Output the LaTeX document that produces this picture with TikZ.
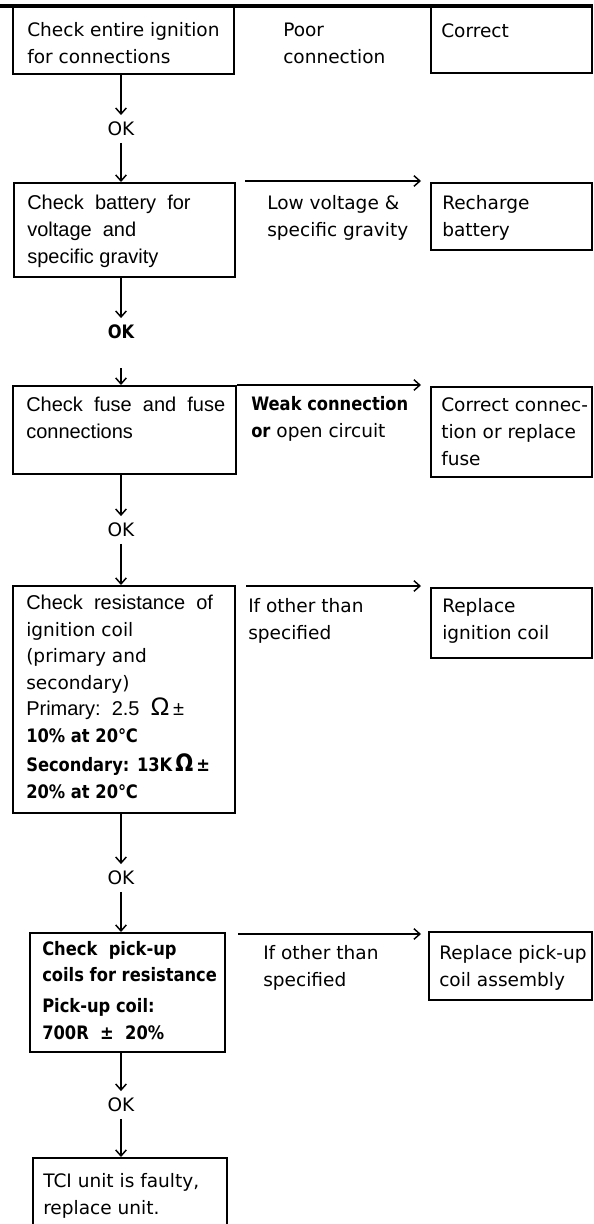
\documentclass[tikz,border=0pt]{standalone}
\usepackage{fontspec}
\setmainfont{DejaVu Sans}
\newfontfamily\hvfont{Liberation Sans}
\newfontfamily\bdfont{DejaVu Sans}[FakeStretch=0.88]
\usetikzlibrary{arrows.meta,calc,fit}
\begin{document}
\begin{tikzpicture}[x=0.75pt,y=-0.75pt,
  box/.style={draw,line width=1.5pt,inner sep=0pt,rectangle},
  uv/.style={inner sep=0pt,anchor=base west,align=left,font=\fontsize{13.9pt}{19.9pt}\selectfont},
  hv/.style={inner sep=0pt,anchor=base west,align=left,font=\hvfont\fontsize{15pt}{19.9pt}\selectfont},
  bd/.style={inner sep=0pt,anchor=base west,align=left,font=\bdfont\bfseries\fontsize{13.9pt}{19.9pt}\selectfont},
  okl/.style={inner xsep=0pt,inner ysep=5pt,font=\fontsize{13.9pt}{19.9pt}\selectfont},
  arr/.style={line width=1.1pt,-{Straight Barb[length=4.5pt,width=8pt,line width=1.1pt]}}
]
\useasboundingbox (0,0) rectangle (593,1224);
\clip (0,0) rectangle (593,1224);
% top rule
\coordinate (tl) at (0,6);
\coordinate (tr) at (593,6);
\draw[line width=2.3pt] (tl) -- (tr);

% row 1 (text nodes are placed at the baseline of their last line)
\node[box,fit={(13,6) (234,74)}] (b1) {};
\node[uv] (t1) at (27,63) {Check entire ignition\\for connections};
\node[uv] (m1) at (283,63) {Poor\\connection};
\node[box,fit={(431,6) (592,73)}] (r1) {};
\node[uv] (s1) at (441,37) {Correct};

\node[okl] (ok1) at (121,129) {OK};
\draw[arr] (b1.south -| ok1.north) -- (ok1.north);

% row 2
\node[box,fit={(14,183) (235,277)}] (b2) {};
\draw[arr] (ok1.south) -- (ok1.south |- b2.north);
\node[hv] (t2) at (27,263) {Check\ \ battery\ \ for\\voltage\ \ and\\specific gravity};
\node[uv] (m2) at (267,236) {Low voltage \&\\specific gravity};
\node[box,fit={(431,183) (592,250)}] (r2) {};
\node[uv] (s2) at (442,236) {Recharge\\battery};
\draw[arr] ($(b2.north east)+(9,-1)$) -- ($(r2.north west)+(-9,-1)$);

\node[okl,font=\bdfont\bfseries\fontsize{13.9pt}{19.9pt}\selectfont] (ok2) at (121,332) {OK};
\draw[arr] (b2.south -| ok2.north) -- (ok2.north);
\coordinate (c3) at (121,368);

% row 3
\node[box,fit={(13,386) (236,474)}] (b3) {};
\draw[arr] (c3) -- (c3 |- b3.north);
\node[hv] (t3) at (26,438) {Check\ \ fuse\ \ and\ \ fuse\\connections};
\node[uv] (m3) at (251,437) {{\bdfont\bfseries Weak connection}\\{\bdfont\bfseries or} open circuit};
\node[box,fit={(431,387) (592,477)}] (r3) {};
\node[uv] (s3) at (441,465) {Correct connec-\\tion or replace\\fuse};
\draw[arr] (b3.north east) -- ($(r3.north west)+(-9,-1)$);

\node[okl] (ok3) at (121,530) {OK};
\draw[arr] (b3.south -| ok3.north) -- (ok3.north);

% row 4
\node[box,fit={(13,586) (235,813)}] (b4) {};
\draw[arr] (ok3.south) -- (ok3.south |- b4.north);
\node[uv] (t4) at (26,798) {{\hvfont\fontsize{15pt}{19.9pt}\selectfont Check\ \ resistance\ \ of}\\ignition coil\\(primary and\\secondary)\\{\hvfont\fontsize{15pt}{19.9pt}\selectfont Primary:\ \ 2.5\ \ {\fontsize{19pt}{19.9pt}\selectfont\char"03A9}\,\textpm}\\{\bdfont\bfseries 10\% at 20\char"2103}\\[2pt]{\bdfont\bfseries Secondary: 13K\,{\fontsize{18pt}{19.9pt}\selectfont\char"03A9}\,\textpm}\\{\bdfont\bfseries 20\% at 20\char"2103}};
\node[uv] (m4) at (248,639) {If other than\\specified};
\node[box,fit={(431,588) (592,658)}] (r4) {};
\node[uv] (s4) at (442,639) {Replace\\ignition coil};
\draw[arr] ($(b4.north east)+(10,1)$) -- ($(r4.north west)+(-9,-1)$);

\node[okl] (ok4) at (121,878) {OK};
\draw[arr] (b4.south -| ok4.north) -- (ok4.north);

% row 5
\node[box,fit={(30,933) (225,1052)}] (b5) {};
\draw[arr] (ok4.south) -- (ok4.south |- b5.north);
\node[bd] (t5) at (42,1039) {Check\ \ pick-up\\coils for resistance\\[3pt]Pick-up coil:\\700R \ \textpm\ \ 20\%};
\node[uv] (m5) at (263,986) {If other than\\specified};
\node[box,fit={(429,932) (592,1000)}] (r5) {};
\node[uv] (s5) at (439,986) {Replace pick-up\\coil assembly};
\draw[arr] ($(b5.north east)+(12,2)$) -- ($(r5.north west)+(-7,3)$);

\node[okl] (ok5) at (121,1105) {OK};
\draw[arr] (b5.south -| ok5.north) -- (ok5.north);

% row 6
\node[box,fit={(33,1158) (227,1240)}] (b6) {};
\draw[arr] (ok5.south) -- (ok5.south |- b6.north);
\node[uv] (t6) at (43,1214) {TCI unit is faulty,\\replace unit.};
\end{tikzpicture}
\end{document}
